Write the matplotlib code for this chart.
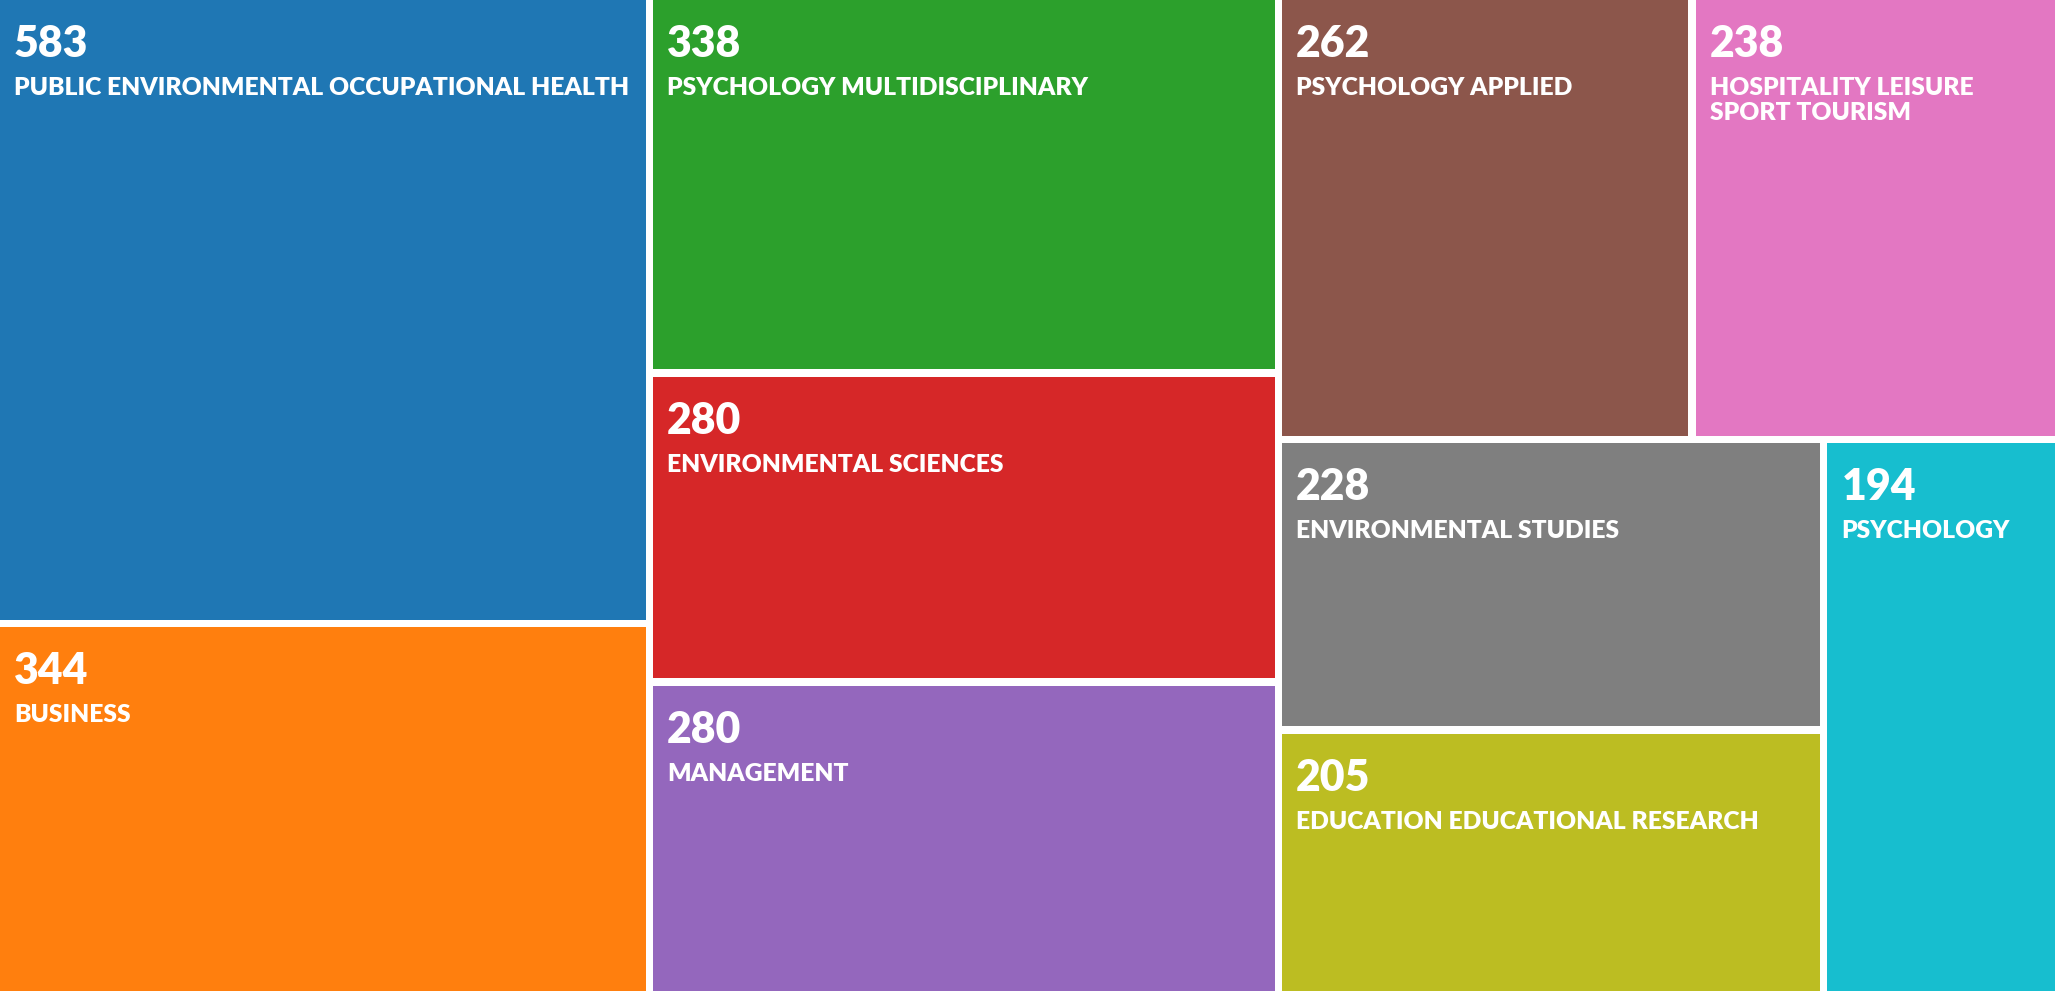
import matplotlib
matplotlib.use("Agg")
import matplotlib.pyplot as plt
from matplotlib.patches import Rectangle

# ---------------- data ----------------
categories = [
    "PUBLIC ENVIRONMENTAL OCCUPATIONAL HEALTH",
    "BUSINESS",
    "PSYCHOLOGY MULTIDISCIPLINARY",
    "ENVIRONMENTAL SCIENCES",
    "MANAGEMENT",
    "PSYCHOLOGY APPLIED",
    "HOSPITALITY LEISURE SPORT TOURISM",
    "ENVIRONMENTAL STUDIES",
    "EDUCATION EDUCATIONAL RESEARCH",
    "PSYCHOLOGY",
]
values = [583, 344, 338, 280, 280, 262, 238, 228, 205, 194]
colors = ["#1f77b4", "#ff7f0e", "#2ca02c", "#d62728", "#9467bd",
          "#8c564b", "#e377c2", "#7f7f7f", "#bcbd22", "#17becf"]

# ---------------- layout parameters ----------------
FIG_W, FIG_H, DPI = 2055, 991, 100
LAYOUT_W = 2068          # treemap is slightly wider than the visible crop
GAP = 7.5                # white gap between tiles
PHI = (1 + 5 ** 0.5) / 2
FONT = ["Lato", "DejaVu Sans"]
WEIGHT = "heavy"
NUM_SIZE = 30.8
LAB_SIZE = 17.7


def squarify(vals, x0, y0, x1, y1, ratio=PHI):
    """d3.treemapSquarify algorithm."""
    rects = [None] * len(vals)
    total = float(sum(vals))
    n = len(vals)
    i0 = 0
    while i0 < n:
        dx, dy = x1 - x0, y1 - y0
        i1 = i0
        s = float(vals[i1]); i1 += 1
        mn = mx = s
        alpha = max(dy / dx, dx / dy) / (total * ratio)
        beta = s * s * alpha
        min_ratio = max(mx / beta, beta / mn)
        while i1 < n:
            v = vals[i1]
            s2 = s + v
            mn2, mx2 = min(mn, v), max(mx, v)
            beta = s2 * s2 * alpha
            nr = max(mx2 / beta, beta / mn2)
            if nr > min_ratio:
                break
            s, mn, mx, min_ratio = s2, mn2, mx2, nr
            i1 += 1
        if dx < dy:   # row across the top
            h = dy * s / total
            cx = x0
            for i in range(i0, i1):
                w = dx * vals[i] / s
                rects[i] = (cx, y0, cx + w, y0 + h)
                cx += w
            y0 += h
        else:         # column at the left
            w = dx * s / total
            cy = y0
            for i in range(i0, i1):
                h = dy * vals[i] / s
                rects[i] = (x0, cy, x0 + w, cy + h)
                cy += h
            x0 += w
        total -= s
        i0 = i1
    return rects


rects = squarify(values, 0, 0, LAYOUT_W, FIG_H)

fig = plt.figure(figsize=(FIG_W / DPI, FIG_H / DPI), dpi=DPI, facecolor="white")
ax = fig.add_axes([0, 0, 1, 1])
ax.set_xlim(0, FIG_W)
ax.set_ylim(FIG_H, 0)
ax.axis("off")

renderer = fig.canvas.get_renderer()
eps = 1e-6
half = GAP / 2
for (x0, y0, x1, y1), val, lab, col in zip(rects, values, categories, colors):
    x0p = x0 + (half if x0 > eps else 0)
    y0p = y0 + (half if y0 > eps else 0)
    x1p = x1 - (half if x1 < LAYOUT_W - eps else 0)
    y1p = y1 - (half if y1 < FIG_H - eps else 0)
    ax.add_patch(Rectangle((x0p, y0p), x1p - x0p, y1p - y0p,
                           facecolor=col, edgecolor="none"))
    tx = x0p + 14
    ax.text(tx, y0p + 57, str(val), color="white", fontsize=NUM_SIZE,
            fontweight=WEIGHT, family=FONT, va="baseline", ha="left")
    # greedy word wrap of the label to the visible tile width
    avail = min(x1p, FIG_W) - tx - 8
    words = lab.split()
    lines, cur = [], ""
    for w in words:
        trial = (cur + " " + w).strip()
        t = ax.text(0, 0, trial, fontsize=LAB_SIZE, fontweight=WEIGHT, family=FONT)
        wpx = t.get_window_extent(renderer).width
        t.remove()
        if wpx > avail and cur:
            lines.append(cur)
            cur = w
        else:
            cur = trial
    lines.append(cur)
    for k, line in enumerate(lines):
        ax.text(tx, y0p + 95 + k * 25.5, line, color="white", fontsize=LAB_SIZE,
                fontweight=WEIGHT, family=FONT, va="baseline", ha="left")

fig.savefig("out.png", dpi=DPI, facecolor="white")
